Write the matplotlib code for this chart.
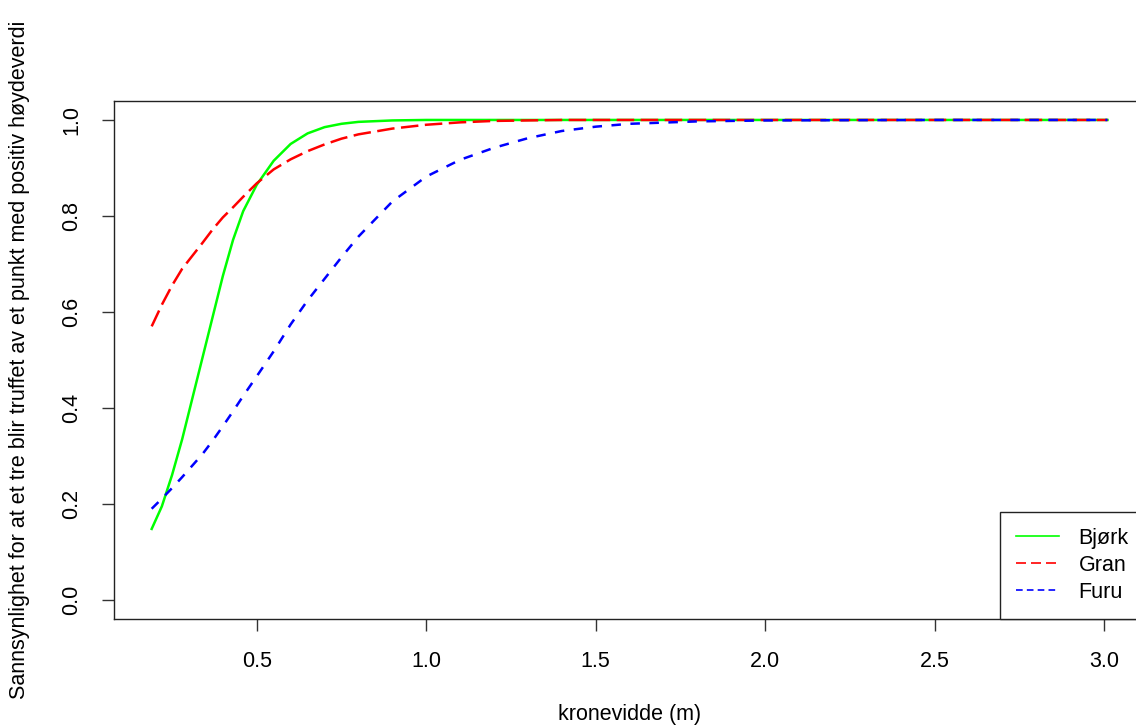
import matplotlib.pyplot as plt
from matplotlib.lines import Line2D

# kronevidde (m) and probability per tree species
kronevidde = [0.19, 0.22, 0.25, 0.28, 0.31, 0.34, 0.37, 0.40, 0.43, 0.46,
              0.50, 0.55, 0.60, 0.65, 0.70, 0.75, 0.80, 0.90, 1.0, 1.1,
              1.2, 1.3, 1.4, 1.5, 1.6, 1.8, 2.0, 2.5, 3.01]
bjork = [0.148, 0.195, 0.26, 0.335, 0.42, 0.505, 0.59, 0.675, 0.75, 0.81,
         0.865, 0.915, 0.95, 0.972, 0.985, 0.992, 0.996, 0.999, 1.0, 1.0,
         1.0, 1.0, 1.0, 1.0, 1.0, 1.0, 1.0, 1.0, 1.0]
gran = [0.57, 0.615, 0.655, 0.69, 0.717, 0.744, 0.772, 0.797, 0.818, 0.84,
        0.868, 0.897, 0.918, 0.935, 0.949, 0.961, 0.97, 0.982, 0.99, 0.995,
        0.998, 0.999, 1.0, 1.0, 1.0, 1.0, 1.0, 1.0, 1.0]
furu = [0.19, 0.211, 0.233, 0.256, 0.28, 0.304, 0.332, 0.362, 0.393, 0.425,
        0.466, 0.518, 0.574, 0.624, 0.669, 0.714, 0.757, 0.83, 0.882, 0.917,
        0.942, 0.962, 0.977, 0.986, 0.992, 0.997, 0.999, 1.0, 1.0]

species = ["Bjørk", "Gran", "Furu"]
x_ticks = [0.5, 1.0, 1.5, 2.0, 2.5, 3.0]
y_ticks = [0.0, 0.2, 0.4, 0.6, 0.8, 1.0]

plt.rcParams['font.family'] = ['Liberation Sans', 'DejaVu Sans']
fs = 15.5

fig = plt.figure(figsize=(11.36, 7.28), dpi=100)
# the plot box runs a little past the right edge, as in the original
ax = fig.add_axes([0.1007, 0.1495, 0.9070, 0.7121])

ax.plot(kronevidde, bjork, color="#00ff00", lw=1.8)
ax.plot(kronevidde, gran, color="#ff0000", lw=1.8, dashes=(7, 2.6))
ax.plot(kronevidde, furu, color="#0000ff", lw=1.8, dashes=(3.8, 3.8))

ax.set_xlim(0.08, 3.12)
ax.set_ylim(-0.04, 1.04)
ax.set_xticks(x_ticks)
ax.set_yticks(y_ticks)
ax.set_xticklabels([f"{t:.1f}" for t in x_ticks], fontsize=fs)
ax.set_yticklabels([f"{t:.1f}" for t in y_ticks], fontsize=fs,
                   rotation=90, va="center")
ax.tick_params(length=8.6, width=1, pad=14.4, color="#333333")
for sp in ax.spines.values():
    sp.set_linewidth(1.0)
    sp.set_color("#222222")

ax.set_xlabel("kronevidde (m)", fontsize=fs)
ax.xaxis.set_label_coords(0.5, -0.183)
ax.xaxis.label.set_va("center")
ax.set_ylabel("Sannsynlighet for at et tre blir truffet av et punkt med positiv høydeverdi",
              fontsize=fs)
ax.yaxis.set_label_coords(-0.0924, 0.5)
ax.yaxis.label.set_va("center")

# legend keys are drawn thinner than the curves, like in the original
handles = [Line2D([], [], color="#00ff00", lw=1.2),
           Line2D([], [], color="#ff0000", lw=1.2, dashes=(6, 3)),
           Line2D([], [], color="#0000ff", lw=1.2, dashes=(4, 2.5))]
leg = ax.legend(handles, species, loc="lower right", borderaxespad=0,
                fancybox=False, edgecolor="#222222", framealpha=1,
                borderpad=0.75, handlelength=2.0, handletextpad=0.9,
                labelspacing=0.28, fontsize=fs)
leg.get_frame().set_linewidth(1.0)

plt.savefig("out.png", dpi=100)
